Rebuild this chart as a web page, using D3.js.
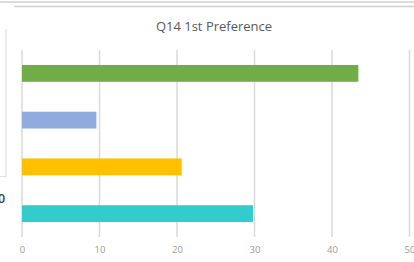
<!DOCTYPE html>
<html><head><meta charset="utf-8">
<script src="https://cdn.jsdelivr.net/npm/d3@7"></script>
<style>body{margin:0;background:#fff;overflow:hidden}svg{display:block}</style>
</head><body>
<script>
const categories = ["Option 1", "Option 2", "Option 3", "Option 4"];
const values = [43.4, 9.6, 20.6, 29.8];
const colors = ["#70AD47", "#8FAADC", "#FFC000", "#33CCCC"];
const tickValues = [0, 10, 20, 30, 40, 50];
const title = "Q14 1st Preference";

const W = 414, H = 262;
const svg = d3.select("body").append("svg").attr("width", W).attr("height", H);

// frame remnants
svg.append("line").attr("x1",0).attr("x2",W).attr("y1",2).attr("y2",2).attr("stroke","#d0d0d0").attr("stroke-width",1.5);
svg.append("line").attr("x1",14).attr("x2",W).attr("y1",6.5).attr("y2",6.5).attr("stroke","#d0d0d0").attr("stroke-width",1.5);
svg.append("path").attr("d","M6,29V176.5H0").attr("fill","none").attr("stroke","#e0e0e0").attr("stroke-width",1.2);
svg.append("text").attr("x",-2).attr("y",202.5).attr("font-family","Open Sans, sans-serif").attr("font-size",12.5).attr("font-weight","600").attr("fill","#404040").text("0");

const x = d3.scaleLinear().domain([0, 50]).range([22, 409.5]);
const y = d3.scaleBand().domain(categories).range([50, 237]).paddingInner(0.64).paddingOuter(0.32);

svg.append("g").selectAll("line").data(tickValues).join("line")
  .attr("x1", d => x(d)).attr("x2", d => x(d)).attr("y1", 50).attr("y2", 237)
  .attr("stroke", "#d9d9d9").attr("stroke-width", 1.5);

svg.append("g").selectAll("rect").data(values).join("rect")
  .attr("x", x(0)).attr("y", (d, i) => y(categories[i]))
  .attr("width", d => x(d) - x(0)).attr("height", y.bandwidth())
  .attr("fill", (d, i) => colors[i]);

const axis = d3.axisBottom(x).tickValues(tickValues).tickSize(0).tickPadding(0);
const g = svg.append("g").attr("transform", "translate(0,246)").call(axis);
g.select(".domain").remove();
g.selectAll("text").attr("font-family", "Open Sans, sans-serif").attr("font-size", 9.5).attr("fill", "#9a9a9a");

svg.append("text").attr("x", 214).attr("y", 31).attr("text-anchor", "middle")
  .attr("font-family", "Open Sans, sans-serif").attr("font-size", 13).attr("fill", "#595959").text(title);
</script>
</body></html>
